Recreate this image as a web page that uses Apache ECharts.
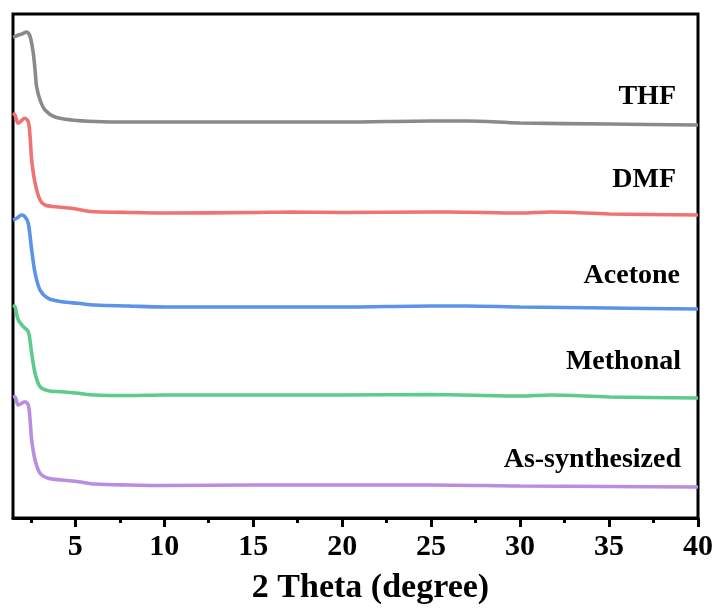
<!DOCTYPE html>
<html>
<head>
<meta charset="utf-8">
<script src="https://cdn.jsdelivr.net/npm/echarts@6/dist/echarts.min.js"></script>
<style>html,body{margin:0;padding:0;background:#fff;}#c{width:719px;height:608px;}</style>
</head>
<body>
<div id="c"></div>
<script>
// Series names (top to bottom)
var names = ['THF', 'DMF', 'Acetone', 'Methonal', 'As-synthesized'];
// Vertical offsets of each pattern (a.u.)
var offsets = [393, 303, 209, 120, 31];
// 2θ values and intensities (a.u., relative to own baseline)
var thfX = [1.5, 1.61, 1.8, 2.0, 2.27, 2.4, 2.5, 2.64, 2.74, 2.83, 3.02, 3.3, 3.86, 4.8, 6.11, 8, 10, 15, 20, 25, 27, 30, 35, 40];
var thfY = [88, 88.5, 90, 91, 93, 91, 86, 72, 55, 38, 25, 15, 8, 5, 3.5, 3, 3, 3, 3, 4, 4, 2, 1, 0];
var dmfX = [1.5, 1.61, 1.8, 2.17, 2.36, 2.46, 2.55, 2.74, 3.02, 3.3, 3.86, 4.8, 5.55, 6.11, 8, 10, 15, 17, 20, 25, 26, 30, 31.7, 35, 40];
var dmfY = [102, 100, 91.7, 96.7, 93.3, 78.3, 55, 32, 15, 10, 8.3, 6.7, 4.3, 3.3, 2.5, 2, 2.5, 3, 2.5, 3, 3, 2, 3, 1, 0];
var aceX = [1.5, 1.71, 1.99, 2.17, 2.36, 2.55, 2.74, 3.02, 3.48, 4.24, 5.17, 6.11, 8, 10, 15, 20, 25, 27, 30, 35, 40];
var aceY = [89, 90.7, 94, 92.3, 85.7, 59, 36, 19, 10.7, 7.3, 5.7, 4, 3, 2, 2, 2, 3, 3, 2, 1, 0];
var metX = [1.5, 1.61, 1.8, 2.08, 2.36, 2.55, 2.74, 3.02, 3.48, 4.24, 5.17, 6.11, 8, 10, 15, 20, 25, 30, 31.7, 35, 40];
var metY = [93, 91.3, 78, 71.3, 66.3, 44.7, 24.7, 11.3, 7.3, 6.3, 4.7, 3, 2.5, 3, 3, 3, 3.5, 2, 3, 1, 0];
var asX = [1.5, 1.61, 1.8, 2.17, 2.36, 2.46, 2.55, 2.74, 3.02, 3.48, 4.24, 5.17, 6.11, 8, 10, 15, 20, 25, 30, 35, 40];
var asY = [90, 90.3, 82, 85.3, 82, 67, 47, 27, 13.7, 8.7, 7, 5.3, 3, 2, 1.5, 2, 2, 2, 1, 0.5, 0];
// Tick values
var majorTicks = [5, 10, 15, 20, 25, 30, 35, 40];
var minorTicks = [2.5, 7.5, 12.5, 17.5, 22.5, 27.5, 32.5, 37.5];

var xs = [thfX, dmfX, aceX, metX, asX];
var ys = [thfY, dmfY, aceY, metY, asY];
var colors = ['#8a8a8a', '#f07373', '#5b93e8', '#5ccb8c', '#b98de0'];
var font = "'Liberation Serif', 'Times New Roman', serif";

var series = names.map(function (n, i) {
  return {
    name: n, type: 'line', smooth: 0.3, showSymbol: false,
    lineStyle: { color: colors[i], width: 3.6 },
    data: xs[i].map(function (x, k) { return [x, ys[i][k] + offsets[i]]; })
  };
});

var chart = echarts.init(document.getElementById('c'), null, { renderer: 'canvas' });
var labelPos = [[676, 97], [676, 180], [680, 276], [681, 362], [681, 460]];
chart.setOption({
  animation: false,
  grid: { left: 13, right: 21, top: 14, bottom: 90, containLabel: false, outerBoundsMode: 'none',
          show: true, borderColor: '#000', borderWidth: 3, backgroundColor: '#fff' },
  xAxis: [{
    type: 'value', min: 1.5, max: 40,
    axisLine: { show: true, lineStyle: { color: '#000', width: 3 } },
    axisTick: { show: true, customValues: majorTicks, length: 9, inside: false, lineStyle: { color: '#000', width: 3 } },
    axisLabel: { show: true, customValues: majorTicks, color: '#000', fontFamily: font, fontWeight: 'bold', fontSize: 30, margin: 14 },
    splitLine: { show: false },
    name: '2 Theta (degree)', nameLocation: 'middle', nameGap: 53,
    nameTextStyle: { color: '#000', fontFamily: font, fontWeight: 'bold', fontSize: 34, padding: [0, 0, 0, 30] }
  }, {
    type: 'value', min: 1.5, max: 40, position: 'bottom',
    axisLine: { show: false },
    axisTick: { show: true, customValues: minorTicks, length: 5, lineStyle: { color: '#000', width: 3 } },
    axisLabel: { show: false }, splitLine: { show: false }
  }],
  yAxis: {
    type: 'value', min: 0, max: 504,
    axisLine: { show: false }, axisTick: { show: false }, axisLabel: { show: false }, splitLine: { show: false }
  },
  series: series,
  graphic: names.map(function (n, i) {
    return {
      type: 'text', x: labelPos[i][0], y: labelPos[i][1],
      style: { text: n, fill: '#000', font: 'bold 28px ' + font, textAlign: 'right', textVerticalAlign: 'middle' }
    };
  })
});
</script>
</body>
</html>
